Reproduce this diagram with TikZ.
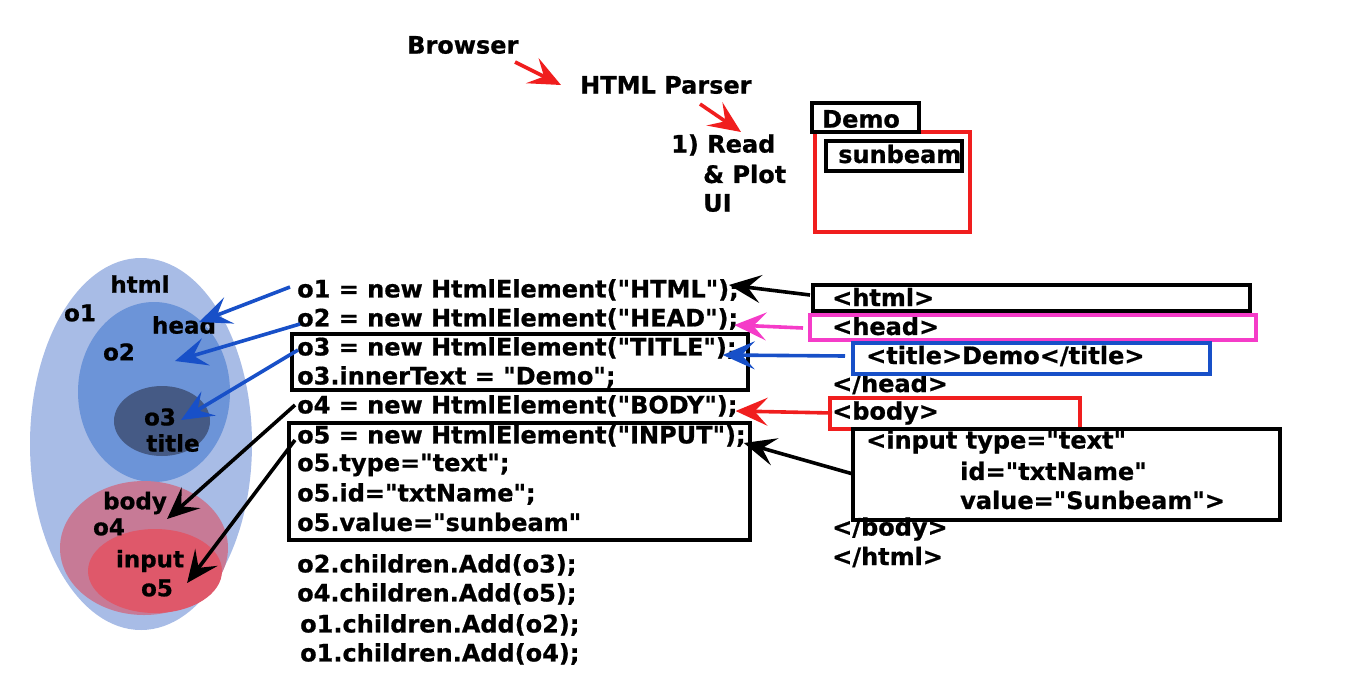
\documentclass[tikz,border=0pt]{standalone}
\usepackage{fontspec}
\setmainfont{DejaVu Sans}[Ligatures=TeXOff,BoldFeatures={FakeBold=0.8}]
\usetikzlibrary{arrows.meta}
\definecolor{ovlone}{RGB}{168,188,230}
\definecolor{ovltwo}{RGB}{108,148,216}
\definecolor{ovlthree}{RGB}{69,90,133}
\definecolor{ovlbody}{RGB}{199,122,150}
\definecolor{ovlinput}{RGB}{223,88,106}
\definecolor{arrred}{RGB}{240,30,30}
\definecolor{arrblue}{RGB}{24,80,200}
\definecolor{arrpink}{RGB}{245,60,200}
\tikzset{
  txt/.style={anchor=west,inner sep=0pt,font=\fontsize{24}{28}\selectfont\bfseries},
  ctxt/.style={inner sep=0pt,font=\fontsize{23}{28}\selectfont\bfseries},
  frame/.style={line width=3.2pt},
  tip/.style={-{Stealth[length=32pt,width=28pt,inset=13pt]}},
  conn/.style={tip,line width=3.6pt},
}
\begin{document}
\begin{tikzpicture}[x=1pt,y=-1pt]
\useasboundingbox (0,0) rectangle (1366,697);

% ---- browser pipeline ----
\node[txt] (browser) at (407,45) {Browser};
\node[txt] (parser) at (580,85) {HTML Parser};
\node[txt] (read1) at (671,145) {1) Read};
\node[txt] (read2) at (703,174) {\& Plot};
\node[txt] (read3) at (703,203) {UI};
\coordinate (b1) at (515,62);
\coordinate (b2) at (561,85);
\coordinate (p1) at (700,104);
\coordinate (p2) at (741,132);
\draw[conn,arrred] (b1) -- (b2);
\draw[conn,arrred] (p1) -- (p2);

% rendered page
\draw[frame,arrred] (815,132) rectangle (970,232);
\draw[frame] (812,103) rectangle (919,132);
\node[txt] (demo) at (822,119) {Demo};
\draw[frame] (826,141) rectangle (962,171);
\node[txt] (sunbeam) at (838,154) {sunbeam};

% ---- object tree ----
\fill[ovlone] (141,444) ellipse [x radius=111, y radius=186];
\fill[ovltwo] (154,392) ellipse [x radius=76, y radius=90];
\fill[ovlthree] (162,421) ellipse [x radius=48, y radius=35];
\fill[ovlbody] (144,548) ellipse [x radius=84, y radius=67];
\fill[ovlinput] (155,571) ellipse [x radius=67, y radius=42];

\node[ctxt] (lhtml) at (140,284) {html};
\node[ctxt] (lo1) at (80,313) {o1};
\node[ctxt] (lhead) at (184,325) {head};
\node[ctxt] (lo2) at (119,352) {o2};
\node[ctxt] (lo3) at (160,417) {o3};
\node[ctxt] (ltitle) at (173,443) {title};
\node[ctxt] (lbody) at (135,503) {body};
\node[ctxt] (lo4) at (109,527) {o4};
\node[ctxt] (linput) at (150,561) {input};
\node[ctxt] (lo5) at (157,588) {o5};
\coordinate (headin) at (175,361);

% ---- generated code ----
\node[txt] (c1) at (297,290) {o1 = new HtmlElement("HTML");};
\node[txt] (c2) at (297,319) {o2 = new HtmlElement("HEAD");};
\node[txt] (c3) at (297,348) {o3 = new HtmlElement("TITLE");};
\node[txt] (c3b) at (297,377) {o3.innerText = "Demo";};
\node[txt] (c4) at (297,406) {o4 = new HtmlElement("BODY");};
\node[txt] (c5) at (297,436) {o5 = new HtmlElement("INPUT");};
\node[txt] (c5a) at (297,465) {o5.type="text";};
\node[txt] (c5b) at (297,494) {o5.id="txtName";};
\node[txt] (c5c) at (297,522) {o5.value="sunbeam"};
\node[txt] (a1) at (297,565) {o2.children.Add(o3);};
\node[txt] (a2) at (297,594) {o4.children.Add(o5);};
\node[txt] (a3) at (300,625) {o1.children.Add(o2);};
\node[txt] (a4) at (300,654) {o1.children.Add(o4);};
\draw[frame] (292,334) rectangle (748,390);
\draw[frame] (289,423) rectangle (750,540);

% ---- markup ----
\node[txt] (thtml) at (832,297) {<html>};
\node[txt] (thead) at (832,326) {<head>};
\node[txt] (ttitle) at (866,356) {<title>Demo</title>};
\node[txt] (theadc) at (832,384) {</head>};
\node[txt] (tbody) at (832,413) {<body>};
\node[txt] (tin1) at (866,442) {<input type="text"};
\node[txt] (tin2) at (960,471) {id="txtName"};
\node[txt] (tin3) at (960,500) {value="Sunbeam">};
\node[txt] (tbodyc) at (832,529) {</body>};
\node[txt] (thtmlc) at (832,557) {</html>};
\draw[frame] (813,285) rectangle (1250,311);
\draw[frame,arrpink] (810,315) rectangle (1256,340);
\draw[frame,arrblue] (853,343) rectangle (1210,374);
\draw[frame,arrred] (830,398) rectangle (1080,429);
\draw[frame] (853,429) rectangle (1280,520);
\coordinate (kin) at (853,474);

% markup -> code  (yshift > 0 moves up)
\draw[conn] ([xshift=-22pt,yshift=2pt]thtml.west) -- ([xshift=-10pt,yshift=5pt]c1.east);
\draw[conn,arrpink] ([xshift=-29pt,yshift=-2pt]thead.west) -- ([xshift=-4pt,yshift=-6pt]c2.east);
\draw[conn,arrblue] ([xshift=-21pt]ttitle.west) -- ([xshift=-14pt,yshift=-7pt]c3.east);
\draw[conn,arrred] (tbody.west) -- ([xshift=-2pt,yshift=-5pt]c4.east);
\draw[conn] (kin) -- ([xshift=-2pt,yshift=-7pt]c5.east);

% code -> objects
\draw[conn,arrblue] ([xshift=-7pt,yshift=3pt]c1.west) -- ([xshift=-17pt,yshift=3pt]lhead.east);
\draw[conn,arrblue] ([xshift=3pt,yshift=-5pt]c2.west) -- (headin);
\draw[conn,arrblue] ([xshift=1pt,yshift=-2pt]c3.west) -- ([xshift=5pt,yshift=-3pt]lo3.east);
\draw[conn] ([xshift=-2pt,yshift=1pt]c4.west) -- ([xshift=0pt,yshift=-16pt]lbody.east);
\draw[conn] ([xshift=-2pt,yshift=-4pt]c5.west) -- ([xshift=14pt,yshift=5pt]lo5.east);
\end{tikzpicture}
\end{document}
